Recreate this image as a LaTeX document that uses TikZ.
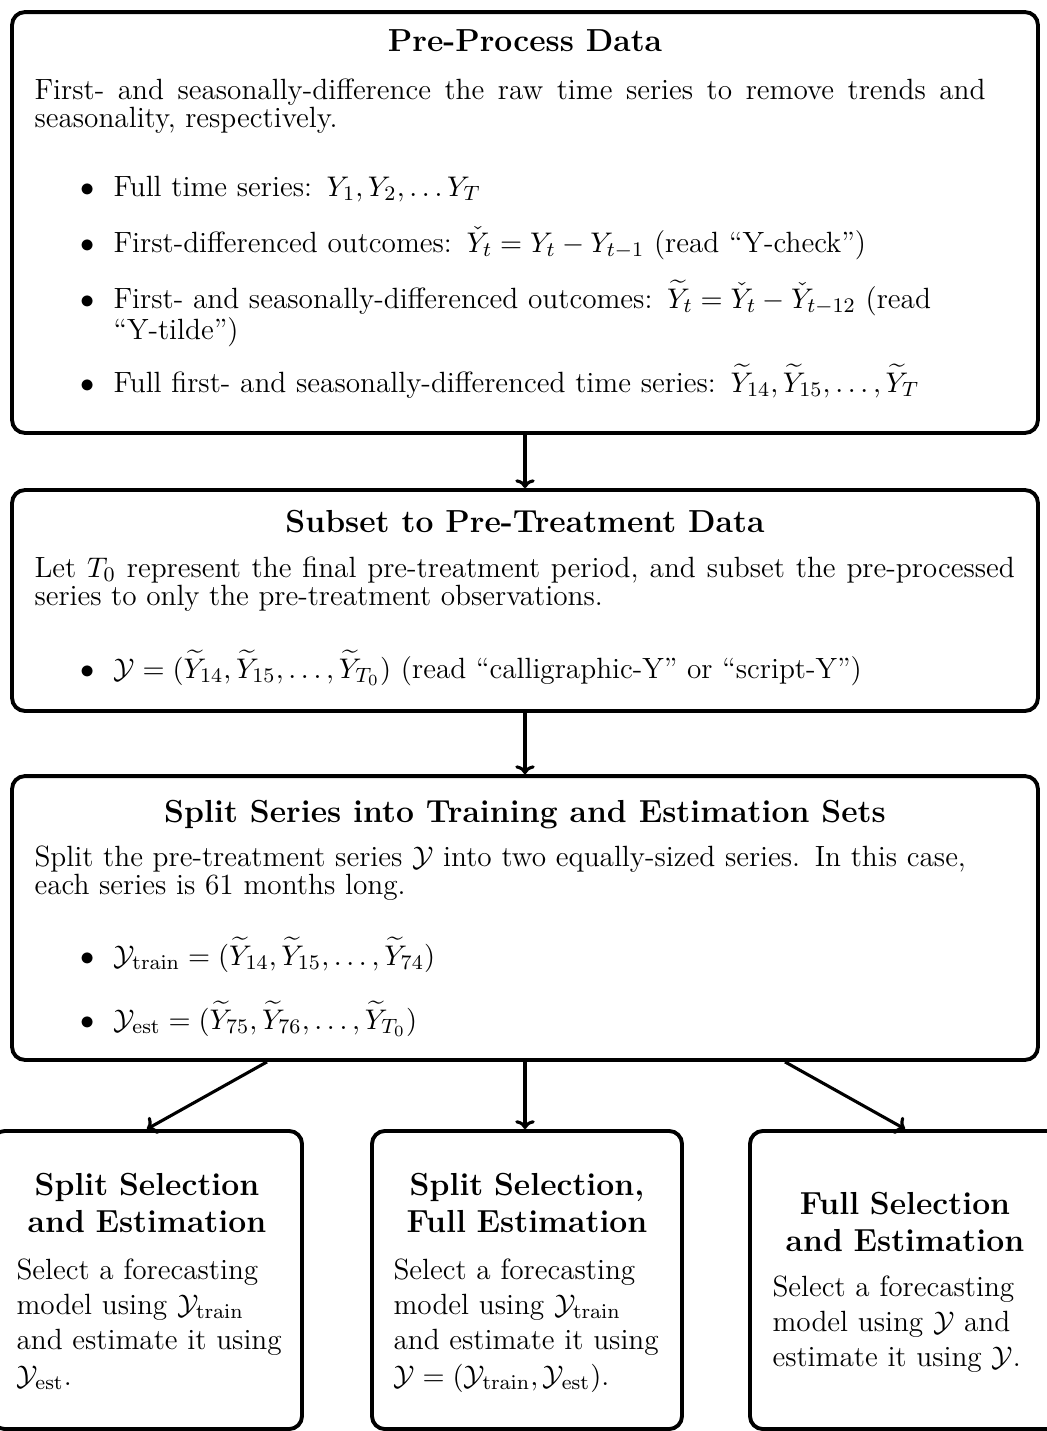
\documentclass[tikz,border=0pt]{standalone}
\usepackage{amsmath}
\usetikzlibrary{arrows.meta,calc}
\begin{document}
\begin{tikzpicture}[x=0.3861pt,y=-0.3861pt,
  box/.style={draw, line width=1.5pt, rounded corners=5pt, inner sep=0pt},
  ttl/.style={anchor=base, inner sep=0pt, font=\fontsize{12.3}{14.8}\selectfont\bfseries},
  ttlb/.style={anchor=base, inner sep=0pt, align=center, text width=112pt, font=\fontsize{12.3}{14.4}\selectfont\bfseries},
  body/.style={anchor=base west, inner sep=0pt, align=left, text width=392pt, font=\fontsize{11.3}{11}\selectfont},
  bodyj/.style={anchor=base west, inner sep=0pt, align=justify, font=\fontsize{11.3}{11}\selectfont},
  bodyb/.style={anchor=base west, inner sep=0pt, align=left, text width=118pt, font=\fontsize{11.3}{13.7}\selectfont},
  bul/.style={anchor=base, inner sep=0pt, font=\fontsize{11.3}{11}\selectfont},
  arr/.style={-{To[length=3.4pt,width=7.5pt]}, line width=1.2pt}
]
\useasboundingbox (0,0) rectangle (1047,1431);

% ---------- Box 1
\node[box, minimum width=396.1pt, minimum height=162.5pt] (b1) at (525,222.5) {};
\node[ttl] (t1) at (525,51) {Pre-Process Data};
\node[bodyj, text width=367.2pt] (p1) at (34,99) {First- and seasonally-difference the raw time series to remove trends and\linebreak seasonality, respectively.};
\node[bul] (u11) at (88,196) {$\bullet$};
\node[body] (i11) at (113,196) {Full time series: $Y_1, Y_2, \ldots Y_T$};
\node[bul] (u12) at (88,252) {$\bullet$};
\node[body] (i12) at (113,252) {First-differenced outcomes: $\check{Y}_t = Y_t - Y_{t-1}$ (read “Y-check”)};
\node[bul] (u13) at (88,308) {$\bullet$};
\node[body] (i13) at (113,308) {First- and seasonally-differenced outcomes: $\widetilde{Y}_t = \check{Y}_t - \check{Y}_{t-12}$ (read\\ “Y-tilde”)};
\node[bul] (u14) at (88,392) {$\bullet$};
\node[body] (i14) at (113,392) {Full first- and seasonally-differenced time series: $\widetilde{Y}_{14}, \widetilde{Y}_{15}, \ldots, \widetilde{Y}_T$};

% ---------- Box 2
\node[box, minimum width=396.1pt, minimum height=85.3pt] (b2) at (525,600.5) {};
\node[ttl] (t2) at (525,532) {Subset to Pre-Treatment Data};
\node[bodyj, text width=378.5pt] (p2) at (34,577) {Let $T_0$ represent the final pre-treatment period, and subset the pre-processed\linebreak series to only the pre-treatment observations.};
\node[bul] (u21) at (88,678) {$\bullet$};
\node[body] (i21) at (113,678) {$\mathcal{Y} = (\widetilde{Y}_{14}, \widetilde{Y}_{15}, \ldots, \widetilde{Y}_{T_0})$ (read “calligraphic-Y” or “script-Y”)};

% ---------- Box 3
\node[box, minimum width=396.1pt, minimum height=109.6pt] (b3) at (525,918) {};
\node[ttl] (t3) at (525,822) {Split Series into Training and Estimation Sets};
\node[body] (p3) at (34,866) {Split the pre-treatment series $\mathcal{Y}$ into two equally-sized series. In this case,\\ each series is 61 months long.};
\node[bul] (u31) at (88,965) {$\bullet$};
\node[body] (i31) at (113,965) {$\mathcal{Y}_{\mathrm{train}} = (\widetilde{Y}_{14}, \widetilde{Y}_{15}, \ldots, \widetilde{Y}_{74})$};
\node[bul] (u32) at (88,1029) {$\bullet$};
\node[body] (i32) at (113,1029) {$\mathcal{Y}_{\mathrm{est}} = (\widetilde{Y}_{75}, \widetilde{Y}_{76}, \ldots, \widetilde{Y}_{T_0})$};

% ---------- Bottom boxes
\node[box, minimum width=119.7pt, minimum height=115.1pt] (c1) at (147,1280) {};
\node[ttlb] (tc1) at (147,1195) {Split Selection\\ and Estimation};
\node[bodyb] (pc1) at (16,1279) {Select a forecasting\\ model using $\mathcal{Y}_{\mathrm{train}}$\\ and estimate it using\\ $\mathcal{Y}_{\mathrm{est}}$.};

\node[box, minimum width=119.7pt, minimum height=115.1pt] (c2) at (527,1280) {};
\node[ttlb] (tc2) at (527,1195) {Split Selection,\\ Full Estimation};
\node[bodyb] (pc2) at (393,1279) {Select a forecasting\\ model using $\mathcal{Y}_{\mathrm{train}}$\\ and estimate it using\\ $\mathcal{Y} = (\mathcal{Y}_{\mathrm{train}}, \mathcal{Y}_{\mathrm{est}})$.};

\node[box, minimum width=119.7pt, minimum height=115.1pt] (c3) at (905,1280) {};
\node[ttlb] (tc3) at (905,1214) {Full Selection\\ and Estimation};
\node[bodyb] (pc3) at (772,1296) {Select a forecasting\\ model using $\mathcal{Y}$ and\\ estimate it using $\mathcal{Y}$.};

% ---------- Connectors
\draw[arr] (b1.south) -- (b2.north);
\draw[arr] (b2.south) -- (b3.north);
\draw[arr] ($(b3.south)+(-258,0)$) -- (c1.north);
\draw[arr] (b3.south) -- (b3.south |- c2.north);
\draw[arr] ($(b3.south)+(260,0)$) -- (c3.north);
\end{tikzpicture}
\end{document}
